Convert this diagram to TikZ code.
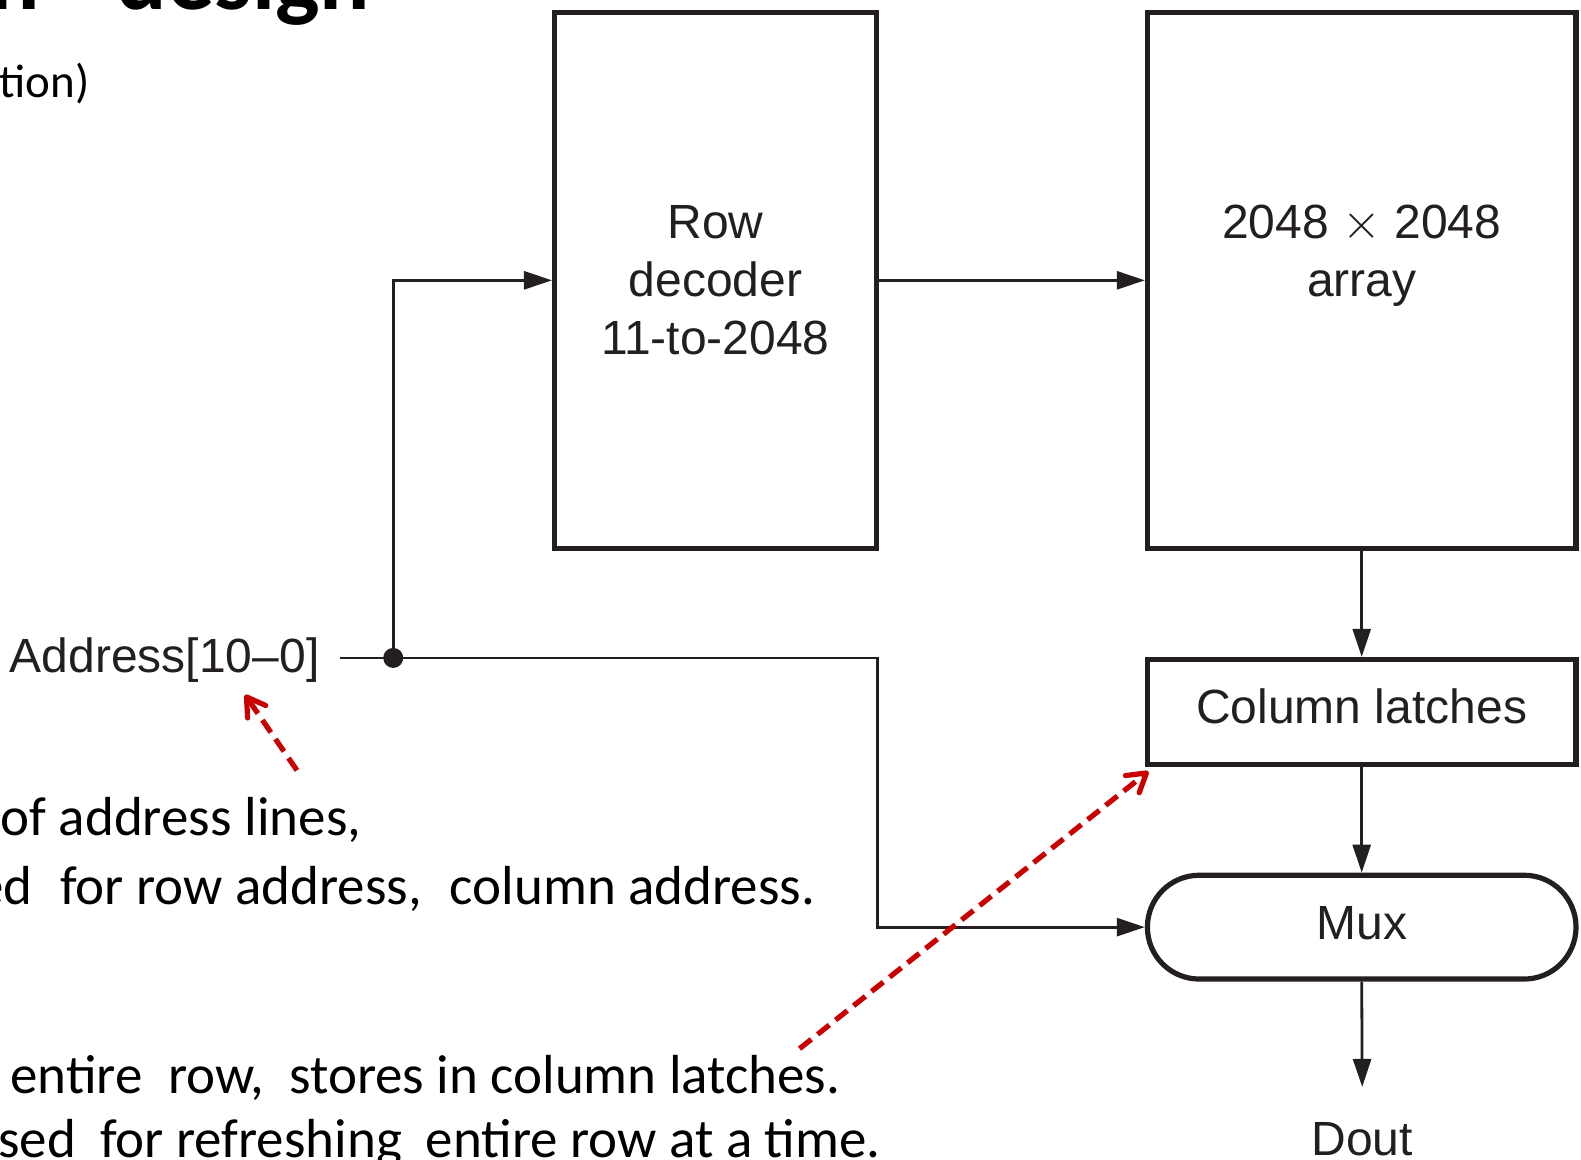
\documentclass[tikz,border=0pt]{standalone}
\usepackage{fontspec}
\setmainfont{Liberation Sans}
\newfontfamily\slidefont{Carlito}
\usetikzlibrary{arrows.meta}
\definecolor{ink}{HTML}{231F20}
\definecolor{redarr}{RGB}{200,0,0}
\newcommand\nsp{\hspace{6.2pt}}
\newcommand\wsp{\hspace{6.2pt plus 1fill}}
\begin{document}
\begin{tikzpicture}[x=0.50415pt, y=-0.50415pt,
  box/.style={draw=ink, line width=2.6pt, inner sep=0pt, text=ink},
  conn/.style={draw=ink, line width=1.4pt},
  arr/.style={conn, -{Triangle[length=14pt,width=9pt]}},
  note/.style={draw=redarr, line width=2.6pt, dash pattern=on 7.5pt off 4pt,
    -{Straight Barb[length=9pt,width=11pt,round]}},
  dtext/.style={font=\fontsize{24}{29}\selectfont, text=ink},
  stext/.style={font=\slidefont\fontsize{27.5}{32}\selectfont, inner sep=0pt, anchor=base west}]
\useasboundingbox (0,0) rectangle (1568,1150);
\begin{scope}
\clip (0,0) rectangle (1568,1150);
\node[stext, font=\slidefont\bfseries\fontsize{47}{56}\selectfont] (title) at (-11,9) {n\hspace{28pt} design};
\node[stext, font=\slidefont\fontsize{23.5}{28}\selectfont] (t0) at (-1,97) {tion)};
\node[stext] (t1) at (0,829) {\makebox[180.5pt][s]{of\wsp address\wsp lines,}};
\node[stext] (t2) at (-24,897) {\makebox[419.5pt][s]{ed\wsp for\nsp row\nsp address,\wsp column\nsp address.}};
\node[stext] (t3) at (10,1084) {\makebox[414.9pt][s]{entire\wsp row,\wsp stores\nsp in\nsp column\nsp latches.}};
\node[stext] (t4) at (-2,1148) {\makebox[441.1pt][s]{sed\wsp for\nsp refreshing\wsp entire\nsp row\nsp at\nsp a\nsp time.}};
\end{scope}

\node[box, dtext, align=center, minimum width=160.8pt, minimum height=268.2pt] (rowdec) at (709.5,278) {Row\\decoder\\11-to-2048};
\node[box, minimum width=214.3pt, minimum height=268.2pt] (array) at (1350.5,278) {};
\node[dtext, align=center, inner sep=0pt] (arraytxt) at (1350.5,254) {2048 $\times$ 2048\\array};
\node[box, dtext, minimum width=214.3pt, minimum height=52.4pt, text depth=5.5pt] (latch) at (1350.5,706) {Column latches};
\node[box, dtext, rounded corners=25.9pt, minimum width=214.3pt, minimum height=51.9pt, text depth=4.6pt] (mux) at (1350.5,919.5) {Mux};
\node[dtext, anchor=base, inner sep=0pt] (dout) at (1351,1145.5) {Dout};
\coordinate (doutin) at (1351,1078);

\node[dtext, anchor=base east, inner xsep=10pt, inner ysep=0pt] (addr) at (337,667) {Address[10--0]};
\node[circle, fill=ink, inner sep=0pt, minimum size=10pt] (dot) at (390,652.5) {};
\coordinate (turn) at (870,652.5);

\draw[conn] (addr.east |- dot) -- (dot.center);
\draw[arr] (dot.center) |- (rowdec.west);
\draw[arr] (dot.center) -- (turn) |- (mux.west);
\draw[arr] (rowdec.east) -- (array.west);
\draw[arr] (array.south) -- (latch.north);
\draw[arr] (latch.south) -- (mux.north);
\draw[arr] (mux.south) -- (doutin);

\coordinate (n1s) at (294.5,764);
\coordinate (n1e) at (243,689);
\coordinate (n2s) at (793,1040);
\coordinate (n2e) at (1139,765);
\draw[note] (n1s) -- (n1e);
\draw[note] (n2s) -- (n2e);
\end{tikzpicture}
\end{document}
